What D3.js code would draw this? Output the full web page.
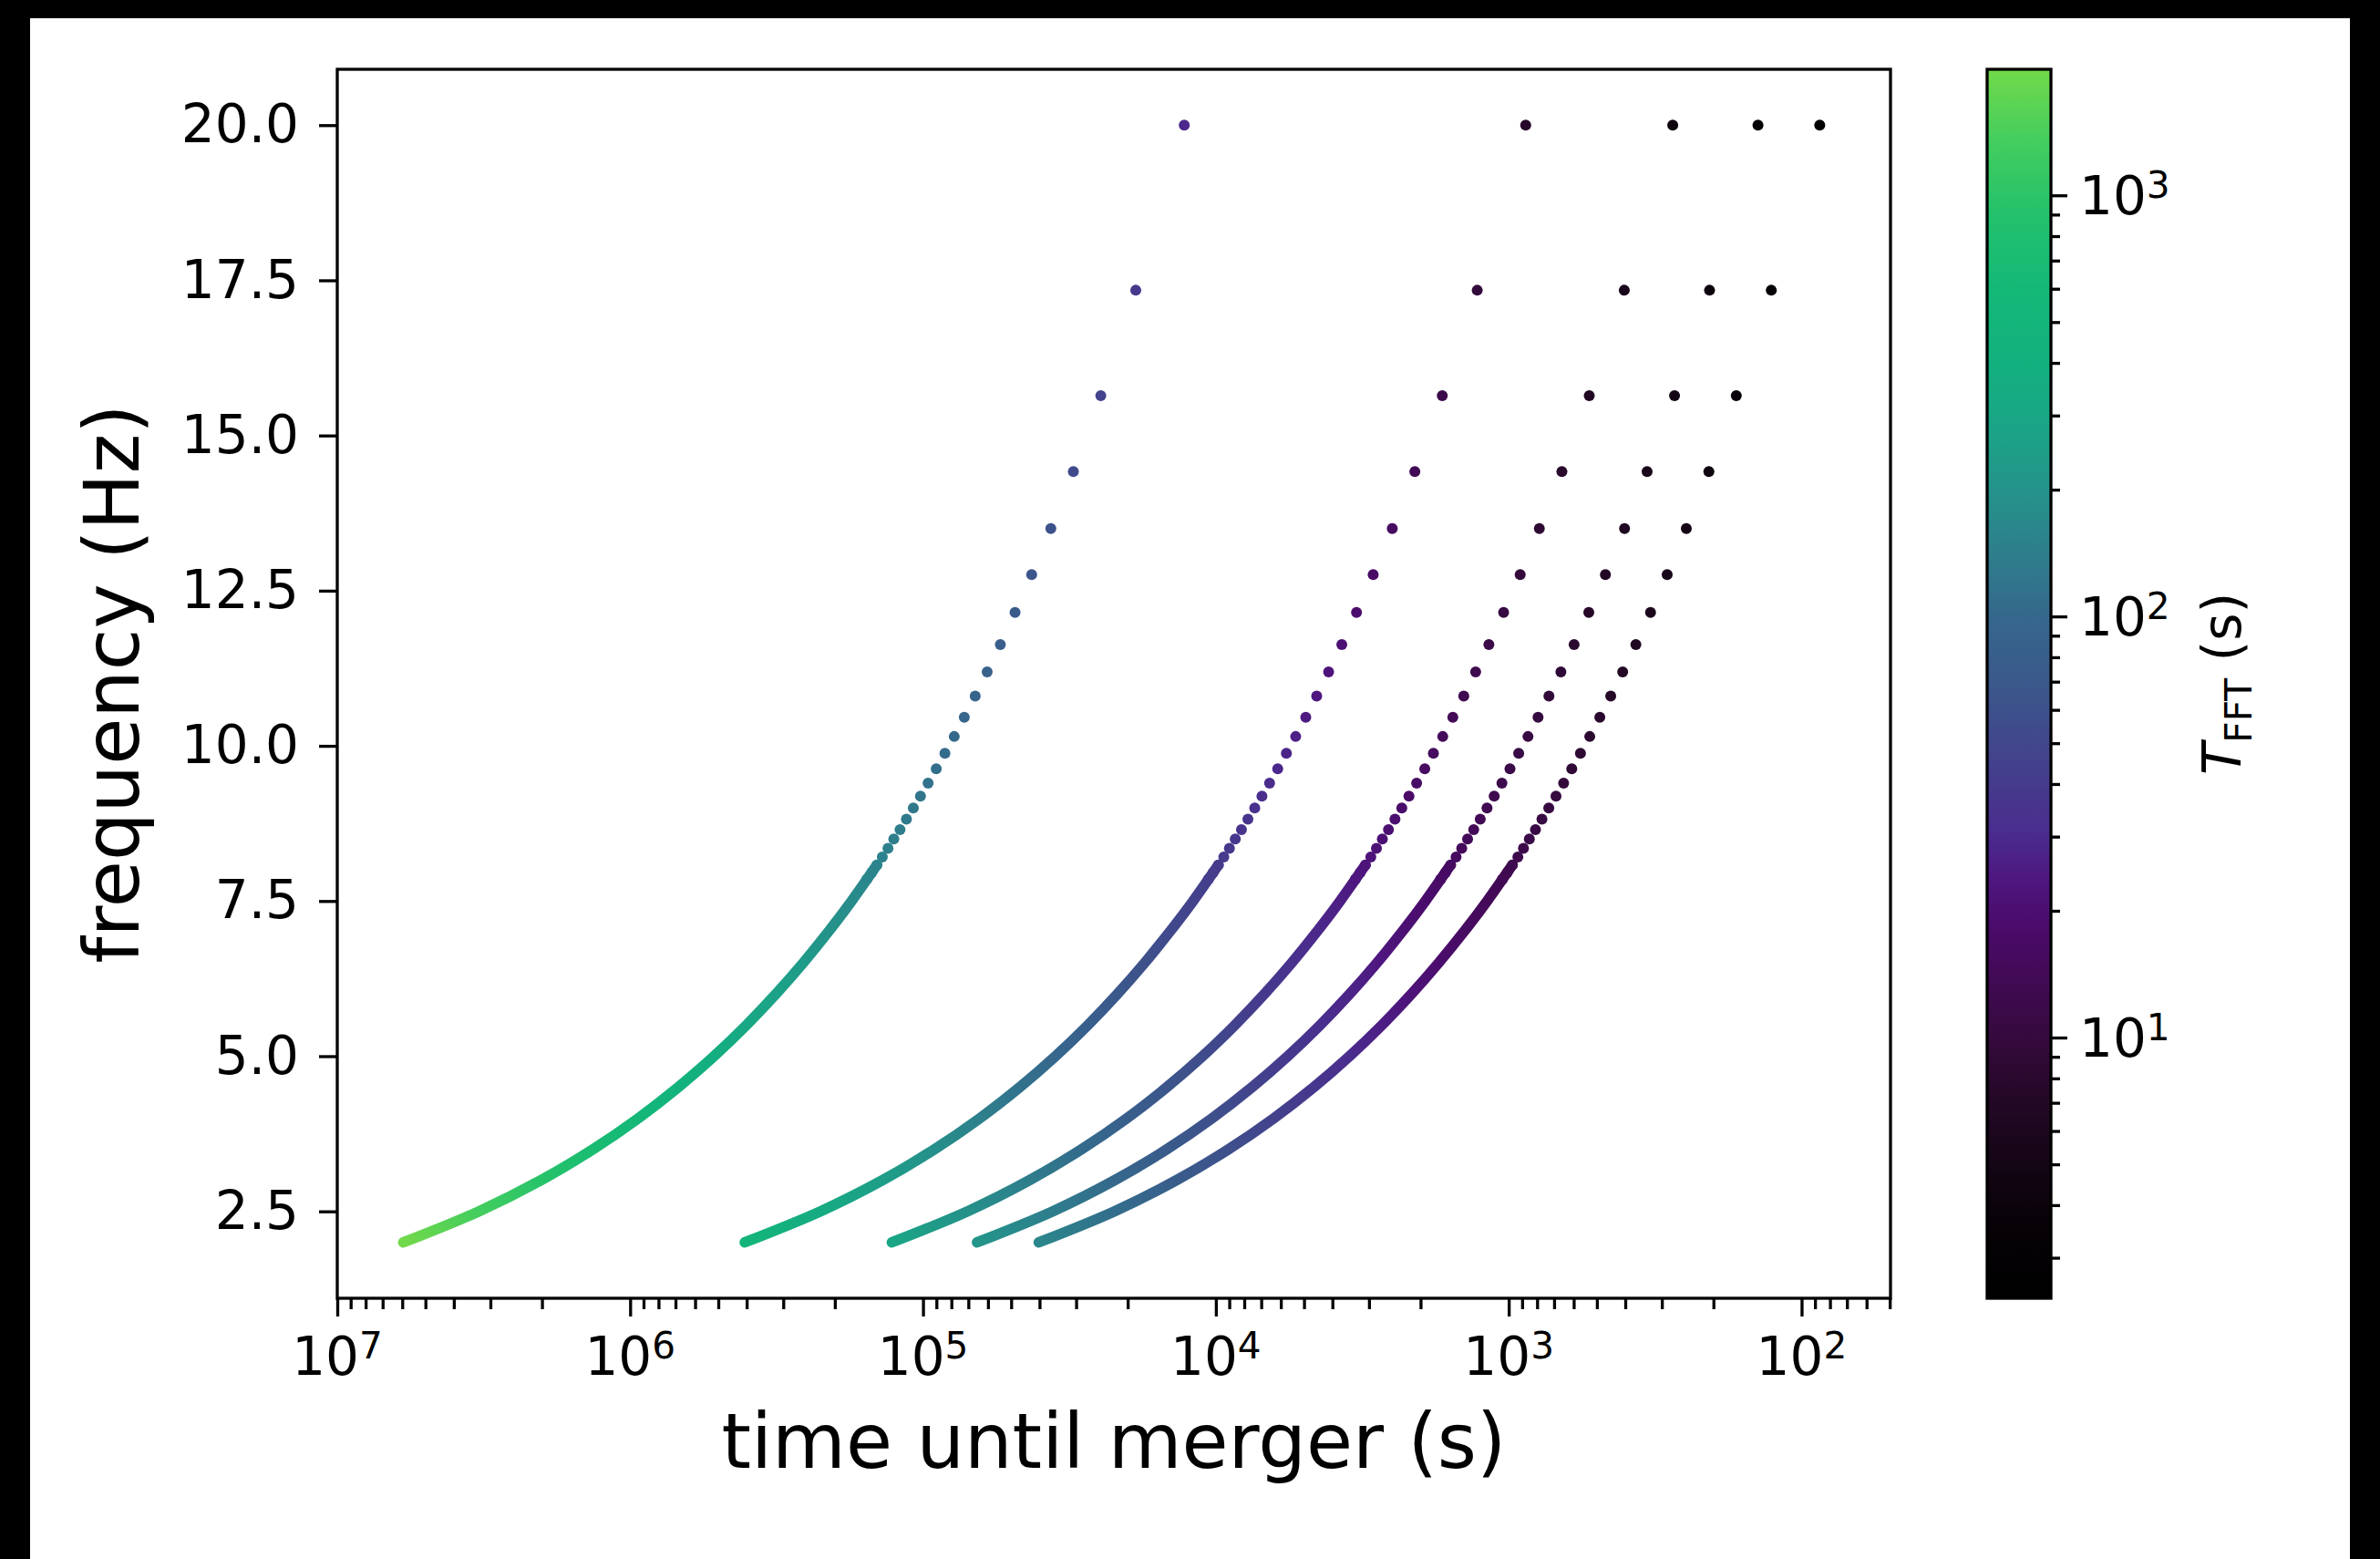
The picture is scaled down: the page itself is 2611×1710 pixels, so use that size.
<!DOCTYPE html>
<html>
<head>
<meta charset="utf-8">
<script src="https://cdn.jsdelivr.net/npm/d3@7"></script>
<style>
  html, body { margin: 0; padding: 0; background: #000; }
  svg { display: block; }
  text { font-family: "DejaVu Sans", sans-serif; fill: #000; }
</style>
</head>
<body>
<svg id="chart" width="2611" height="1710"></svg>
<script>
// ---------- Data ----------
// shared frequency levels of the separate dots (Hz)
const freqHz = [20.0, 17.34, 15.64, 14.42, 13.50, 12.76, 12.15, 11.63, 11.19, 10.80, 10.46, 10.15,
  9.88, 9.63, 9.40, 9.19, 9.00, 8.82, 8.65, 8.50, 8.35, 8.21, 8.08, 7.96, 7.85];
// frequencies along the dense (overlapping) part of each track (Hz)
const trackFreqHz = [8.08, 7.5, 7.0, 6.5, 6.0, 5.5, 5.0, 4.5, 4.0, 3.5, 3.0, 2.5, 2.0];

// time until merger (s) of each dot, one array per curve
const dotTimeC1 = [12820, 18770, 24710, 30660, 36600, 42550, 48490, 54440, 60380, 66330, 72270, 78220,
  84160, 90110, 96050, 102000, 107900, 113900, 119800, 125800, 131700, 137700, 143600, 149600, 155500];
const dotTimeC2 = [875, 1281, 1686, 2092, 2498, 2903, 3309, 3715, 4121, 4526, 4932, 5338,
  5743, 6149, 6555, 6960, 7366, 7772, 8177, 8583, 8989, 9394, 9800, 10210, 10610];
const dotTimeC3 = [275.4, 403.1, 530.8, 658.4, 786.1, 913.8, 1041, 1169, 1297, 1424, 1552, 1680,
  1808, 1935, 2063, 2191, 2318, 2446, 2574, 2701, 2829, 2957, 3084, 3212, 3340];
const dotTimeC4 = [140.9, 206.2, 271.5, 336.9, 402.2, 467.5, 532.8, 598.1, 663.5, 728.8, 794.1, 859.4,
  924.7, 990.1, 1055, 1121, 1186, 1251, 1317, 1382, 1447, 1513, 1578, 1643, 1708];
const dotTimeC5 = [86.7, 126.9, 167.1, 207.3, 247.5, 287.7, 327.9, 368.0, 408.2, 448.4, 488.6, 528.8,
  569.0, 609.2, 649.4, 689.6, 729.8, 770.0, 810.2, 850.4, 890.5, 930.7, 970.9, 1011, 1051];

// T_FFT (s) of each dot
const dotTfftC1 = [29.2, 38.0, 45.9, 53.2, 60.1, 66.7, 73.0, 79.0, 84.8, 90.5, 96.0, 101.4,
  106.6, 111.7, 116.7, 121.6, 126.5, 131.2, 135.9, 140.5, 145.0, 149.5, 153.9, 158.3, 162.5];
const dotTfftC2 = [7.64, 9.92, 11.99, 13.91, 15.70, 17.42, 19.06, 20.64, 22.16, 23.64, 25.07, 26.49,
  27.85, 29.18, 30.48, 31.76, 33.04, 34.27, 35.50, 36.70, 37.88, 39.05, 40.20, 41.35, 42.45];
const dotTfftC3 = [4.29, 5.57, 6.73, 7.80, 8.81, 9.77, 10.69, 11.58, 12.43, 13.26, 14.07, 14.86,
  15.62, 16.37, 17.10, 17.82, 18.54, 19.23, 19.92, 20.59, 21.25, 21.91, 22.55, 23.20, 23.81];
const dotTfftC4 = [3.07, 3.98, 4.81, 5.58, 6.30, 6.99, 7.65, 8.28, 8.89, 9.49, 10.06, 10.63,
  11.17, 11.71, 12.23, 12.75, 13.26, 13.75, 14.24, 14.73, 15.20, 15.67, 16.13, 16.59, 17.03];
const dotTfftC5 = [2.404, 3.12, 3.77, 4.38, 4.94, 5.48, 6.00, 6.50, 6.98, 7.44, 7.89, 8.34,
  8.77, 9.19, 9.60, 10.00, 10.40, 10.79, 11.18, 11.55, 11.92, 12.29, 12.66, 13.02, 13.36];

// time until merger (s) along the dense tracks
const trackTimeC1 = [143700, 175300, 210800, 256800, 318000, 401000, 517000, 684700, 937400, 1339000, 2018000, 3283000, 5952000];
const trackTimeC2 = [9809, 11960, 14390, 17530, 21700, 27360, 35280, 46730, 63960, 91350, 137700, 224000, 406200];
const trackTimeC3 = [3087, 3765, 4528, 5516, 6830, 8612, 11100, 14710, 20130, 28750, 43350, 70500, 127800];
const trackTimeC4 = [1580, 1926, 2316, 2822, 3494, 4406, 5681, 7524, 10300, 14710, 22180, 36070, 65410];
const trackTimeC5 = [971.9, 1185, 1425, 1737, 2150, 2711, 3496, 4630, 6338, 9051, 13650, 22200, 40250];

// T_FFT (s) along the dense tracks
const trackTfftC1 = [153.9, 176.5, 200.4, 229.5, 265.8, 311.8, 371.3, 450.4, 559.0, 714.1, 947.1, 1323, 1992];
const trackTfftC2 = [40.20, 46.11, 52.35, 59.95, 69.43, 81.45, 96.99, 117.7, 146.0, 186.5, 247.4, 345.6, 520.3];
const trackTfftC3 = [22.55, 25.87, 29.37, 33.63, 38.95, 45.69, 54.41, 66.01, 81.92, 104.7, 138.8, 193.9, 291.9];
const trackTfftC4 = [16.13, 18.50, 21.01, 24.06, 27.86, 32.68, 38.92, 47.21, 58.59, 74.85, 99.27, 138.7, 208.8];
const trackTfftC5 = [12.66, 14.51, 16.48, 18.87, 21.86, 25.64, 30.53, 37.04, 45.97, 58.72, 77.88, 108.8, 163.8];

const curveIds = ["c1", "c2", "c3", "c4", "c5"];
const dotTimes = [dotTimeC1, dotTimeC2, dotTimeC3, dotTimeC4, dotTimeC5];
const dotTffts = [dotTfftC1, dotTfftC2, dotTfftC3, dotTfftC4, dotTfftC5];
const trackTimes = [trackTimeC1, trackTimeC2, trackTimeC3, trackTimeC4, trackTimeC5];
const trackTffts = [trackTfftC1, trackTfftC2, trackTfftC3, trackTfftC4, trackTfftC5];

// ticks
const yTicks = [2.5, 5.0, 7.5, 10.0, 12.5, 15.0, 17.5, 20.0];
const xMajorTicks = [1e7, 1e6, 1e5, 1e4, 1e3, 1e2];
const cbMajorTicks = [10, 100, 1000];

// colormap (black -> purple -> blue -> teal -> green), position along log colour axis
const cmapStops = [
  [0.00, "#000000"], [0.06, "#070207"], [0.12, "#170618"], [0.17, "#260829"],
  [0.21, "#340a3c"], [0.26, "#420a55"], [0.30, "#4a0b69"], [0.34, "#4e167f"],
  [0.38, "#4a2d8e"], [0.43, "#443f8c"], [0.49, "#3c558b"], [0.555, "#35688c"],
  [0.61, "#2d808c"], [0.66, "#24948a"], [0.71, "#1aa586"], [0.76, "#13b07f"],
  [0.82, "#14b877"], [0.88, "#22c16c"], [0.94, "#42cd5e"], [1.00, "#72d94a"]
];

// ---------- Layout ----------
const svg = d3.select("#chart");
const plot = { left: 370, top: 76, right: 2074, bottom: 1424 };
const cb = { left: 2180, right: 2250, top: 76, bottom: 1424 };
const lw = 3.3;

svg.append("rect")
  .attr("x", 33).attr("y", 20).attr("width", 2545).attr("height", 1690)
  .attr("fill", "#fff");

// ---------- Scales ----------
const x = d3.scaleLog().domain([1e7, 49.7]).range([plot.left, plot.right]);
const y = d3.scaleLinear().domain([1.1, 20.9]).range([plot.bottom, plot.top]);

const cExtent = d3.extent(dotTffts.flat().concat(trackTffts.flat()));
const cNorm = d3.scaleLog().domain(cExtent).range([0, 1]).clamp(true);
const cmap = d3.scaleLinear()
  .domain(cmapStops.map(s => s[0]))
  .range(cmapStops.map(s => s[1]))
  .interpolate(d3.interpolateRgb);
const color = v => cmap(cNorm(v));

const defs = svg.append("defs");

// ---------- Tracks (dense low-frequency part) ----------
const line = d3.line()
  .x(d => x(d.t))
  .y(d => y(d.f))
  .curve(d3.curveCatmullRom);

const trackLayer = svg.append("g");
curveIds.forEach((id, k) => {
  const pts = trackFreqHz.map((f, i) => ({ f, t: trackTimes[k][i], T: trackTffts[k][i] }));
  const p0 = [x(pts[0].t), y(pts[0].f)];
  const p1 = [x(pts[pts.length - 1].t), y(pts[pts.length - 1].f)];
  const vx = p1[0] - p0[0], vy = p1[1] - p0[1];
  const len2 = vx * vx + vy * vy;
  const grad = defs.append("linearGradient")
    .attr("id", "grad-" + id)
    .attr("gradientUnits", "userSpaceOnUse")
    .attr("x1", p0[0]).attr("y1", p0[1])
    .attr("x2", p1[0]).attr("y2", p1[1]);
  grad.selectAll("stop").data(pts).join("stop")
    .attr("offset", d => {
      const o = ((x(d.t) - p0[0]) * vx + (y(d.f) - p0[1]) * vy) / len2;
      return Math.max(0, Math.min(1, o));
    })
    .attr("stop-color", d => color(d.T));

  trackLayer.append("path")
    .datum(pts)
    .attr("d", line)
    .attr("fill", "none")
    .attr("stroke", `url(#grad-${id})`)
    .attr("stroke-width", 11.5)
    .attr("stroke-linecap", "round");
});

// ---------- Dots ----------
const dotLayer = svg.append("g");
curveIds.forEach((id, k) => {
  const pts = freqHz.map((f, i) => ({ f, t: dotTimes[k][i], T: dotTffts[k][i] }));
  dotLayer.append("g").selectAll("circle").data(pts).join("circle")
    .attr("cx", d => x(d.t))
    .attr("cy", d => y(d.f))
    .attr("r", 6)
    .attr("fill", d => color(d.T));
});

// ---------- Axes ----------
function styleAxis(g) {
  g.select(".domain").remove();
  g.selectAll(".tick line").attr("stroke", "#000").attr("stroke-width", lw);
  g.selectAll(".tick text").attr("font-size", 58).attr("font-family", "DejaVu Sans").attr("fill", "#000");
}

// y axis
svg.append("g")
  .attr("transform", `translate(${plot.left},0)`)
  .call(d3.axisLeft(y).tickValues(yTicks).tickFormat(d3.format(".1f")).tickSize(20).tickPadding(22))
  .call(styleAxis);

// x axis (log, reversed)
const xMinor = x.ticks().filter(v => !xMajorTicks.includes(v));
svg.append("g")
  .attr("transform", `translate(0,${plot.bottom})`)
  .call(d3.axisBottom(x).tickValues(xMinor).tickFormat("").tickSize(12))
  .call(styleAxis);
svg.append("g")
  .attr("transform", `translate(0,${plot.bottom})`)
  .call(d3.axisBottom(x).tickValues(xMajorTicks).tickFormat("").tickSize(20))
  .call(styleAxis);

function powerLabel(sel, v) {
  const e = Math.round(Math.log10(v));
  sel.append("tspan").text("10");
  sel.append("tspan").attr("dy", -18).attr("font-size", 40.6).text(e);
}

svg.append("g").selectAll("text").data(xMajorTicks).join("text")
  .attr("x", d => x(d))
  .attr("y", 1508)
  .attr("text-anchor", "middle")
  .attr("font-size", 58)
  .each(function (d) { powerLabel(d3.select(this), d); });

// frame
svg.append("rect")
  .attr("x", plot.left).attr("y", plot.top)
  .attr("width", plot.right - plot.left).attr("height", plot.bottom - plot.top)
  .attr("fill", "none").attr("stroke", "#000").attr("stroke-width", lw);

// axis titles
svg.append("text")
  .attr("x", (plot.left + plot.right) / 2)
  .attr("y", 1610)
  .attr("text-anchor", "middle")
  .attr("font-size", 83)
  .text("time until merger (s)");

svg.append("text")
  .attr("transform", `translate(152,${(plot.top + plot.bottom) / 2}) rotate(-90)`)
  .attr("text-anchor", "middle")
  .attr("font-size", 83)
  .text("frequency (Hz)");

// ---------- Colorbar ----------
const cScale = d3.scaleLog().domain(cExtent).range([cb.bottom, cb.top]);
const cbGrad = defs.append("linearGradient")
  .attr("id", "cbgrad")
  .attr("x1", 0).attr("y1", 1).attr("x2", 0).attr("y2", 0);
cbGrad.selectAll("stop").data(cmapStops).join("stop")
  .attr("offset", d => d[0])
  .attr("stop-color", d => d[1]);

svg.append("rect")
  .attr("x", cb.left).attr("y", cb.top)
  .attr("width", cb.right - cb.left).attr("height", cb.bottom - cb.top)
  .attr("fill", "url(#cbgrad)");

const cbMinor = cScale.ticks().filter(v => !cbMajorTicks.includes(v));
svg.append("g")
  .attr("transform", `translate(${cb.right},0)`)
  .call(d3.axisRight(cScale).tickValues(cbMinor).tickFormat("").tickSize(10))
  .call(styleAxis);
svg.append("g")
  .attr("transform", `translate(${cb.right},0)`)
  .call(d3.axisRight(cScale).tickValues(cbMajorTicks).tickFormat("").tickSize(18))
  .call(styleAxis);

svg.append("g").selectAll("text").data(cbMajorTicks).join("text")
  .attr("x", cb.right + 31)
  .attr("y", d => cScale(d) + 21)
  .attr("font-size", 58)
  .each(function (d) { powerLabel(d3.select(this), d); });

svg.append("rect")
  .attr("x", cb.left).attr("y", cb.top)
  .attr("width", cb.right - cb.left).attr("height", cb.bottom - cb.top)
  .attr("fill", "none").attr("stroke", "#000").attr("stroke-width", lw);

const cbLabel = svg.append("text")
  .attr("transform", `translate(2458,${(cb.top + cb.bottom) / 2}) rotate(-90)`)
  .attr("text-anchor", "middle")
  .attr("font-size", 58);
cbLabel.append("tspan").attr("font-style", "italic").text("T");
cbLabel.append("tspan").attr("font-size", 40.6).attr("dy", 12).text("FFT");
cbLabel.append("tspan").attr("dy", -12).text(" (s)");
</script>
</body>
</html>
